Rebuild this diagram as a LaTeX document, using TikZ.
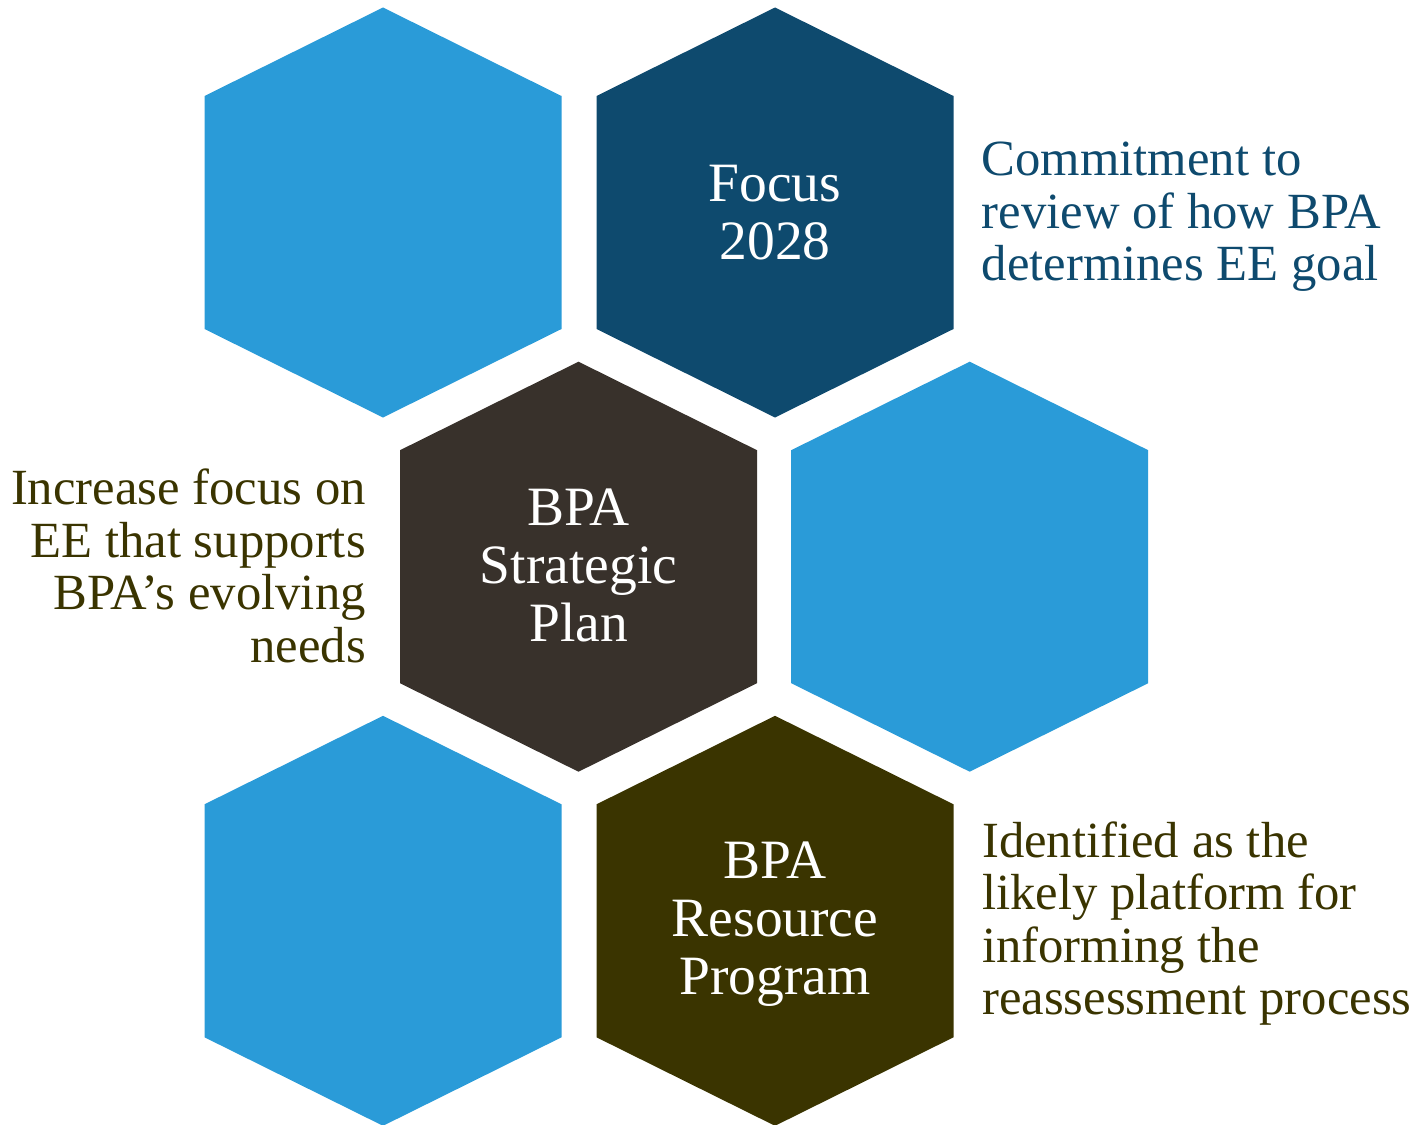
\documentclass[tikz,border=0pt]{standalone}
\usepackage{fontspec}
\setmainfont{Liberation Serif}
\definecolor{lblue}{HTML}{2A9BD8}
\definecolor{navy}{HTML}{0E4A6E}
\definecolor{dbrown}{HTML}{38312B}
\definecolor{olive}{HTML}{3A3400}
\tikzset{
  hex/.pic={\fill[pic actions] (-178.5,-116.5) -- (0,-205) -- (178.5,-116.5) -- (178.5,116.5) -- (0,205) -- (-178.5,116.5) -- cycle;},
  hextext/.style={text=white, align=center, inner sep=0pt, font=\fontsize{55.5}{58}\selectfont},
  sidetext/.style={inner sep=0pt, font=\fontsize{50.7}{52.5}\selectfont}
}
\begin{document}
\begin{tikzpicture}[x=1pt,y=-1pt]
\useasboundingbox (0,0) rectangle (1421,1124);
\begin{scope}
\clip (0,0) rectangle (1421,1124);
\pic[fill=lblue] (h1) at (383,212.5) {hex};
\pic[fill=navy] (h2) at (775,212.5) {hex};
\pic[fill=dbrown] (h3) at (578.5,566.7) {hex};
\pic[fill=lblue] (h4) at (969.7,566.7) {hex};
\pic[fill=lblue] (h5) at (383,920.8) {hex};
\pic[fill=olive] (h6) at (775,920.8) {hex};
\end{scope}
\node[hextext] (focus) at (775,212.5) {Focus\\2028};
\node[hextext] (strategic) at (578.5,565) {BPA\\Strategic\\Plan};
\node[hextext] (resource) at (775,924) {BPA\\Resource\\Program};
\node[sidetext, text=navy, align=left, anchor=north west] (commit) at (981.5,142.2) {Commitment to\\review of how BPA\\determines EE goal};
\node[sidetext, text=olive, align=right, anchor=north east] (increase) at (366,468.8) {Increase focus on\\EE that supports\\BPA’s evolving\\needs};
\node[sidetext, text=olive, align=left, anchor=north west] (identified) at (982,821.2) {Identified as the\\likely platform for\\informing the\\reassessment process};
\end{tikzpicture}
\end{document}
